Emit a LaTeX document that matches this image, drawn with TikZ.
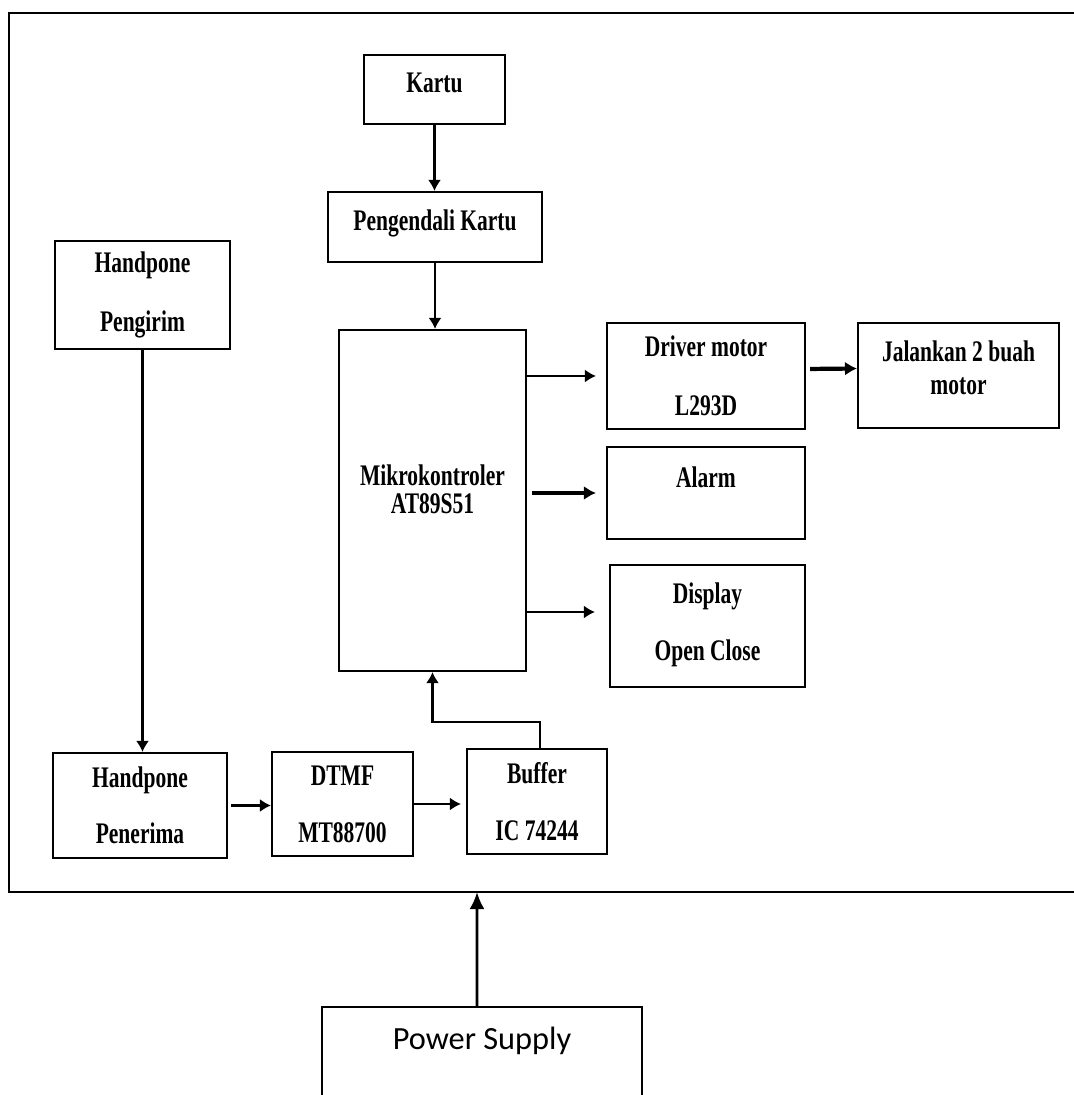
\documentclass[tikz,border=0pt]{standalone}
\usepackage{fontspec}
\newfontfamily\blokfont[FakeStretch=0.72]{Liberation Serif}
\newfontfamily\psfont{Carlito}
\usetikzlibrary{arrows.meta}

\begin{document}
\begin{tikzpicture}[
    blok/.style={draw, line width=0.6pt, align=center, inner sep=0pt,
      font=\blokfont\bfseries\fontsize{8.5}{10}\selectfont},
    panah/.style={line width=0.6pt, -{Latex[length=1.1mm,width=1.3mm]}},
    tebal/.style={line width=1.2pt, -{Latex[length=1.2mm,width=1.4mm]}}]
  \useasboundingbox (0,0) rectangle (10.73,-10.95);
  \draw[line width=0.6pt] (0.09,-0.13) rectangle (10.9,-8.92);
  \coordinate (dasar) at (4.77,-8.92);

  \node[blok, minimum width=1.41cm, minimum height=0.69cm, text depth=0.14cm] (kartu) at (4.345,-0.895) {Kartu};
  \node[blok, minimum width=2.14cm, minimum height=0.70cm, text depth=0.14cm] (kendali) at (4.35,-2.27) {Pengendali Kartu};
  \node[blok, minimum width=1.87cm, minimum height=3.41cm, text depth=0.22cm] (mikro) at (4.325,-5.005) {Mikrokontroler\\[-2pt]AT89S51};
  \node[blok, minimum width=1.98cm, minimum height=1.06cm] (driver) at (7.06,-3.76) {Driver motor\\[6.8pt]L293D};
  \node[blok, minimum width=2.01cm, minimum height=1.05cm, text depth=0.15cm] (jalan) at (9.585,-3.755) {Jalankan 2 buah\\[-0.6pt]motor};
  \node[blok, minimum width=1.98cm, minimum height=0.92cm, text depth=0.32cm] (alarm) at (7.06,-4.93) {Alarm};
  \node[blok, minimum width=1.95cm, minimum height=1.22cm, text depth=0.09cm] (display) at (7.075,-6.26) {Display\\[6.2pt]Open Close};
  \node[blok, minimum width=1.75cm, minimum height=1.08cm] (kirim) at (1.425,-2.95) {Handpone\\[6.8pt]Pengirim};
  \node[blok, minimum width=1.74cm, minimum height=1.05cm] (terima) at (1.40,-8.055) {Handpone\\[6pt]Penerima};
  \node[blok, minimum width=1.41cm, minimum height=1.04cm] (dtmf) at (3.425,-8.04) {DTMF\\[6.2pt]MT88700};
  \node[blok, minimum width=1.40cm, minimum height=1.05cm] (buffer) at (5.37,-8.015) {Buffer\\[6.2pt]IC 74244};
  \node[blok, font=\psfont\fontsize{9.2}{11}\selectfont, minimum width=3.20cm, minimum height=1.13cm, text depth=0.51cm] (power) at (4.82,-10.635) {Power Supply};

  \draw[panah] (kartu.south) -- (kartu.south |- kendali.north);
  \draw[panah] (kendali.south) -- (kendali.south |- mikro.north);
  \draw[panah, shorten >=0.1cm] (mikro.east |- driver.west) -- (driver.west);
  \draw[tebal, shorten <=0.05cm, shorten >=0.1cm] (mikro.east |- alarm.west) -- (alarm.west);
  \draw[panah, shorten >=0.14cm] (mikro.east |- 0,-6.12) -- (display.west |- 0,-6.12);
  \draw[tebal, shorten <=0.04cm] ([yshift=0.07cm]driver.east) -- ([yshift=0.07cm]jalan.west);
  \draw[panah] (kirim.south) -- (kirim.south |- terima.north);
  \draw[panah, shorten <=0.03cm] (terima.east) -- (terima.east -| dtmf.west);
  \draw[panah, shorten >=0.05cm] (dtmf.east) -- (dtmf.east -| buffer.west);
  \draw[panah] ([xshift=0.03cm]buffer.north) |- ([yshift=-0.5cm]mikro.south) -- (mikro.south);
  \draw[line width=0.8pt, -{Latex[length=1.7mm,width=1.5mm]}] ([xshift=-0.05cm]power.north) -- (dasar);
\end{tikzpicture}
\end{document}
